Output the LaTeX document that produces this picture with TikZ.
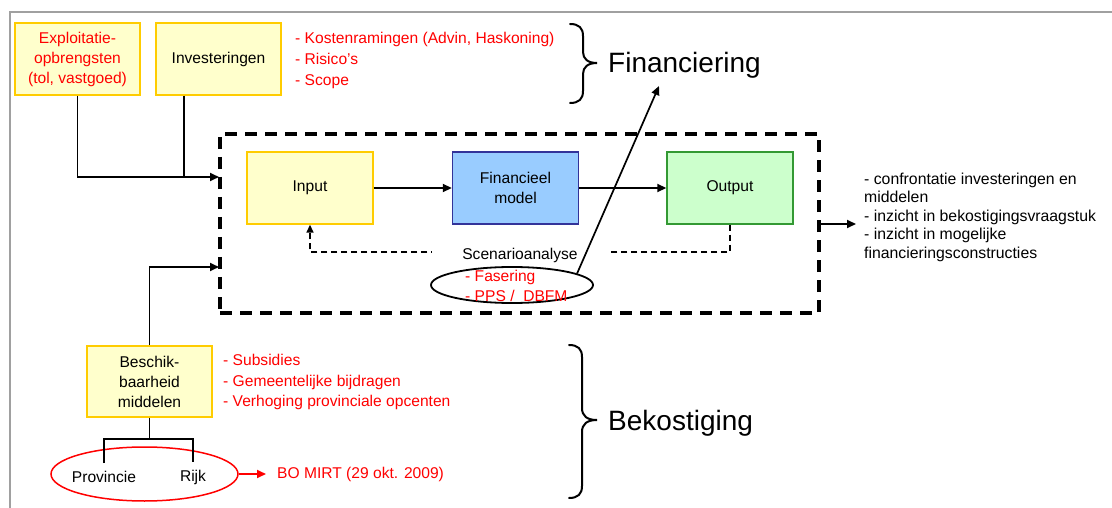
\documentclass[tikz,border=0pt]{standalone}
\usepackage{fontspec}
\setmainfont{Liberation Sans}
\usetikzlibrary{arrows.meta,shapes.geometric}
\definecolor{yelfill}{HTML}{FFFFCC}
\definecolor{yeldraw}{HTML}{FFCC00}
\definecolor{bluefill}{HTML}{99CCFF}
\definecolor{bluedraw}{HTML}{333399}
\definecolor{greenfill}{HTML}{CCFFCC}
\definecolor{greendraw}{HTML}{339933}
\definecolor{framegray}{HTML}{A0A0A0}
\definecolor{txtred}{HTML}{FF0000}
\begin{document}
\begin{tikzpicture}[x=1pt,y=-1pt,
  txt/.style={font=\fontsize{15.6}{20}\selectfont, inner sep=0pt},
  bigtxt/.style={font=\fontsize{28}{32}\selectfont, inner sep=0pt, anchor=west},
  boxbase/.style={txt, line width=1.4pt, minimum width=125pt, minimum height=72pt, align=center},
  ybox/.style={boxbase, draw=yeldraw, fill=yelfill},
  bbox/.style={boxbase, draw=bluedraw, fill=bluefill},
  gbox/.style={boxbase, draw=greendraw, fill=greenfill},
  redlist/.style={txt, text=txtred, align=left, anchor=west},
  arr/.style={-{Triangle[length=9pt,width=8pt]}, line width=1.7pt},
  conn/.style={line width=1.7pt},
  bracestyle/.style={line width=2pt, line cap=round},
]
\useasboundingbox (0,0) rectangle (1112,508);
\fill[white] (0,0) rectangle (1112,508);
\draw[framegray, line width=2pt] (1112,12) -- (10,12) -- (10,508);

% dashed frame
\node[draw, line width=3.8pt, dash pattern=on 12pt off 8pt, minimum width=599pt, minimum height=179pt, inner sep=0pt] (frame) at (519.5,223.5) {};

% top boxes
\node[ybox, text=txtred] (expl) at (77.5,59) {Exploitatie-\\opbrengsten\\(tol, vastgoed)};
\node[ybox] (inv) at (218.5,59) {Investeringen};
\node[redlist, font=\fontsize{15.6}{21}\selectfont] (kost) at (295,60) {- Kostenramingen (Advin, Haskoning)\\- Risico's\\- Scope};

% top brace
\draw[bracestyle] (570,24) .. controls (579,24) and (583,28) .. (583,36) -- (583,52)
  .. controls (583,59) and (588,63) .. (597,63)
  .. controls (588,63) and (583,67) .. (583,74) -- (583,91)
  .. controls (583,99) and (579,103) .. (570,103);
\node[bigtxt] (fin) at (608,65) {Financiering};

% inner boxes
\node[ybox, minimum width=126pt] (inp) at (310,188) {Input};
\node[bbox, minimum width=126pt] (fm) at (515.5,188) {Financieel\\model};
\node[gbox, minimum width=126pt] (outp) at (730,188) {Output};
\draw[arr] (inp.east) -- (fm.west);
\draw[arr] (fm.east) -- (outp.west);

% inputs into frame
\coordinate (inA) at (219,177);
\coordinate (inB) at (219,267);
\draw[arr] (expl.south) |- (inA);
\draw[conn] ([xshift=-34.5pt]inv.south) -- ([xshift=-34.5pt]inv.south |- inA);

% feedback loop
\coordinate (fbk) at (520,252);
\draw[line width=1.5pt, dash pattern=on 6pt off 4pt, -{Triangle[length=8pt,width=7pt]}] (outp.south) |- (fbk) -| (inp.south);
\node[txt, fill=white, inner xsep=30pt, inner ysep=1pt] (sc) at (520,255) {Scenarioanalyse};

% scenario ellipse
\node[draw, ellipse, line width=1.8pt, minimum width=162pt, minimum height=36pt, inner sep=0pt] (ell2) at (512,285) {};
\node[redlist] (fas) at (465,286) {- Fasering\\- PPS /\ \ DBFM};
\coordinate (fintip) at (659,86);
\draw[arr] (ell2.10) -- (fintip);

% output
\coordinate (otip) at (856,224);
\draw[arr] (frame.east |- otip) -- (otip);
\node[txt, font=\fontsize{15.8}{18.5}\selectfont, align=left, anchor=west] (res) at (864,217) {- confrontatie investeringen en\\middelen\\- inzicht in bekostigingsvraagstuk\\- inzicht in mogelijke\\financieringsconstructies};

% bottom part
\node[ybox, minimum height=71pt] (besch) at (149.5,381.5) {Beschik-\\baarheid\\middelen};
\draw[arr] (besch.north) |- (inB);
\node[redlist, font=\fontsize{15.6}{20.5}\selectfont] (subs) at (223,382) {- Subsidies\\- Gemeentelijke bijdragen\\- Verhoging provinciale opcenten};

\node[draw=txtred, ellipse, line width=1.5pt, minimum width=187pt, minimum height=54pt, inner sep=0pt] (ell) at (144.5,474) {};
\node[txt] (prov) at (104,477) {Provincie};
\node[txt] (rijk) at (193,477) {Rijk};
\coordinate (tj) at (149.5,439);
\draw[conn] (besch.south) -- (tj);
\draw[conn] ([yshift=8pt]prov.north) |- (tj) -| ([yshift=8pt]rijk.north);
\node[txt, text=txtred, anchor=west] (bo) at (277,474) {BO MIRT (29 okt. 2009)};
\draw[arr, txtred] (ell.east) -- ([xshift=-11pt]bo.west);

% bottom brace
\draw[bracestyle] (569,345) .. controls (578,345) and (582,349) .. (582,357) -- (582,408)
  .. controls (582,416) and (587,420) .. (597,420)
  .. controls (587,420) and (582,424) .. (582,432) -- (582,486)
  .. controls (582,494) and (578,498) .. (569,498);
\node[bigtxt] (bek) at (608,423) {Bekostiging};
\end{tikzpicture}
\end{document}
